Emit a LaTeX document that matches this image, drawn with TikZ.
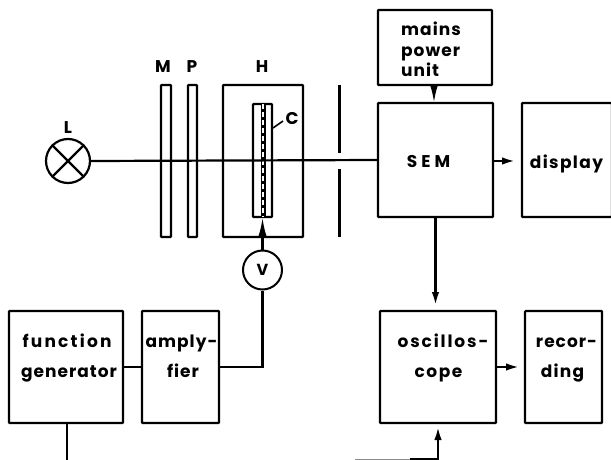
\documentclass[tikz,border=0pt]{standalone}
\usepackage{fontspec}
\setmainfont{Poppins}[LetterSpace=6]
\usetikzlibrary{arrows.meta,positioning}
\newcommand{\lsp}[1]{\addfontfeature{LetterSpace=#1}}
\tikzset{
 x=1pt,y=-1pt,
 wire/.style={line width=2.2pt,black},
 sig/.style={wire,-{Latex[length=13pt,width=7.5pt]}},
 lbl/.style={font=\fontsize{17}{20}\selectfont\bfseries,inner sep=0pt,anchor=base,text=black},
 sym/.style={font=\fontsize{17}{20}\selectfont\bfseries,inner sep=0pt,text=black},
 plate/.style={draw,line width=2.2pt,inner sep=0pt,outer sep=0pt,rounded corners=0.8pt},
}
\newcommand{\boxnode}[5]{% name, x0,y0,x1,y1
 \node[plate,minimum width=#4pt-#2pt,minimum height=#5pt-#3pt] (#1) at ({(#2+#4)/2},{(#3+#5)/2}) {};}
\begin{document}
\begin{tikzpicture}
\useasboundingbox (0,0) rectangle (611,460);
\boxnode{mains}{378}{10}{492}{85}
\boxnode{sem}{378}{103}{493}{217}
\boxnode{display}{522}{103}{612}{217}
\boxnode{func}{9}{311}{123}{423}
\boxnode{amp}{142}{311}{219}{423}
\boxnode{osc}{380}{311}{496}{423}
\boxnode{rec}{525}{311}{602}{423}
\boxnode{M}{161}{85}{171}{237}
\boxnode{P}{188}{85}{197}{237}
\boxnode{H}{223}{85}{303}{237}
\boxnode{C}{253}{104}{272}{217}
\node[draw,circle,line width=2.2pt,minimum size=44pt,inner sep=0pt] (L) at (68,161) {};
\draw[wire] (L.north west)--(L.south east) (L.north east)--(L.south west);
\node[draw,circle,line width=2pt,minimum size=39pt,inner sep=0pt,font=\fontsize{16}{18}\selectfont\bfseries] (V) at (262.5,270) {V};
\node[sym] (tL) at (68,128) {L};
\node[sym] (tM) at (163,67) {M};
\node[sym] (tP) at (192,67) {P};
\node[sym] (tH) at (262,67) {H};
\node[sym] (tC) at (292,119) {C};
\coordinate (cA) at (283,121);
\coordinate (cB) at (273,128);
\draw[wire,line width=1.6pt] (cA)--(cB);
\coordinate (d1) at (263,104); \coordinate (d2) at (263,217);
\draw[line width=5pt] (d1)--(d2);
\draw[white,line width=1.4pt,dash pattern=on 5pt off 3pt] (d1)--(d2);
\coordinate (b1) at (339.5,85); \coordinate (b2) at (339.5,153);
\coordinate (b3) at (339.5,169); \coordinate (b4) at (339.5,237);
\draw[wire] (b1)--(b2) (b3)--(b4);
\draw[wire] (L.east)--(sem.west);
\draw[wire,-{Latex[length=19pt,width=8pt]}] (V.north)--(C.south);
\node[lbl,anchor=base west] (tm1) at (401,36) {mains};
\node[lbl,anchor=base west] (tm2) at (401,57) {power};
\node[lbl,anchor=base west] (tm3) at (401,77) {unit};
\node[lbl] (tsem) at (428.5,167) {S\hspace{4pt}E\hspace{4pt}M};
\node[lbl] (tdisp) at (566.5,168) {\lsp{8}display};
\node[lbl] (tf1) at (67,347) {\lsp{13}function};
\node[lbl] (tf2) at (69,377) {generator};
\node[lbl] (ta1) at (181.5,347) {amply-};
\node[lbl] (ta2) at (183,377) {fier};
\node[lbl] (to1) at (443,347) {\lsp{11}oscillos-};
\node[lbl] (to2) at (438.5,377) {\lsp{9}cope};
\node[lbl] (tr1) at (566.5,347) {recor-};
\node[lbl] (tr2) at (562.5,377) {\lsp{7}ding};
\draw[wire,-{Latex[length=18pt,width=8pt]}] (mains.south -| 434,0)--(sem.north -| 434,0);
\coordinate (dispend) at (515,161);
\draw[sig] (sem.east |- dispend)--(dispend);
\coordinate (oscin) at (435.5,305);
\draw[sig] (sem.south -| oscin)--(oscin);
\coordinate (recend) at (519,367);
\draw[sig] (osc.east |- recend)--(recend);
\draw[wire] (func.east |- 0,367)--(amp.west |- 0,367);
\draw[wire] (amp.east |- 0,367) -| (V.south);
\coordinate (fdown) at (67,460);
\draw[wire] (func.south -| fdown)--(fdown);
\coordinate (fb) at (410,459.5);
\coordinate (fa) at (438,459.5);
\coordinate (ft) at (438,427);
\draw[wire] (fb)--(fa);
\draw[sig] (fa)--(ft);
\coordinate (fg) at (355,459.5);
\draw[line width=1pt,black!45] (fg)--(fb);
\end{tikzpicture}
\end{document}
